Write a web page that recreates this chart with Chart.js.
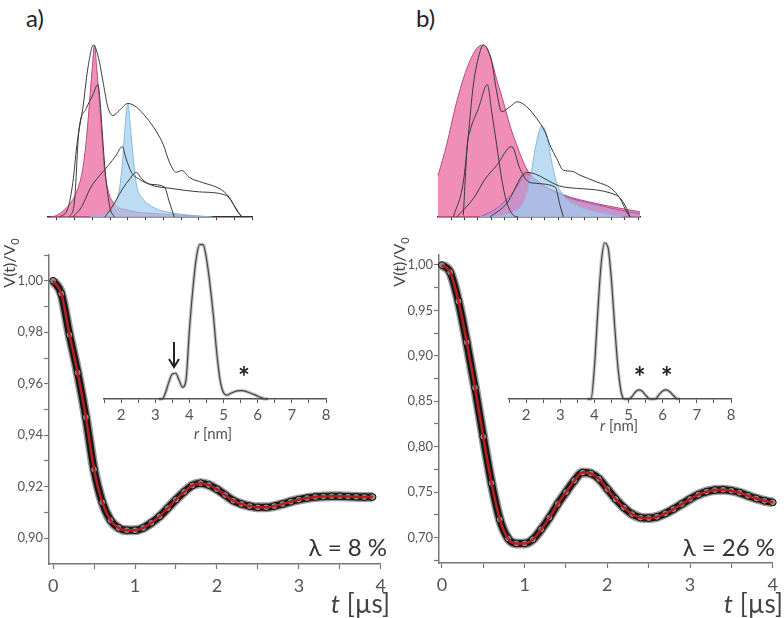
<!DOCTYPE html>
<html>
<head>
<meta charset="utf-8">
<script src="https://cdn.jsdelivr.net/npm/chart.js@4.4.1/dist/chart.umd.min.js"></script>
<style>
  body { margin: 0; background: #fff; width: 784px; height: 618px; position: relative; overflow: hidden; font-family: Lato, "Open Sans", sans-serif; }
  canvas { position: absolute; }
  .lbl { position: absolute; font-size: 24px; color: #222; }
</style>
</head>
<body>
<div class="lbl" style="left:26px;top:3px">a)</div>
<div class="lbl" style="left:416px;top:3px">b)</div>
<canvas id="topA" width="230" height="195" style="left:40px;top:35px"></canvas>
<canvas id="topB" width="230" height="195" style="left:430px;top:35px"></canvas>
<canvas id="mainA" width="392" height="383" style="left:0px;top:235px"></canvas>
<canvas id="mainB" width="392" height="383" style="left:392px;top:235px"></canvas>
<canvas id="insetA" width="250" height="220" style="left:90px;top:230px"></canvas>
<canvas id="insetB" width="270" height="220" style="left:480px;top:230px"></canvas>
<script>
const FONT = 'Lato, "Open Sans", sans-serif';

// DEER traces, V(t)/V0 against t [µs]
const tA = [0,0.1,0.2,0.3,0.4,0.5,0.6,0.7,0.8,0.9,1.0,1.1,1.2,1.3,1.4,1.5,1.6,1.7,1.8,1.9,2.0,2.1,2.2,2.3,2.4,2.5,2.6,2.7,2.8,2.9,3.0,3.1,3.2,3.3,3.4,3.5,3.6,3.7,3.8,3.9];
const vA = [1.000,0.995,0.979,0.9643,0.947,0.9267,0.914,0.907,0.904,0.9031,0.9031,0.904,0.906,0.9085,0.9117,0.915,0.918,0.9205,0.9214,0.9207,0.919,0.9168,0.9146,0.9133,0.9125,0.912,0.912,0.9125,0.9133,0.9142,0.915,0.9156,0.916,0.9162,0.9163,0.9163,0.9162,0.9161,0.916,0.916];
const tB = [0,0.1,0.2,0.3,0.4,0.5,0.6,0.7,0.8,0.9,1.0,1.1,1.2,1.3,1.4,1.5,1.6,1.7,1.8,1.9,2.0,2.1,2.2,2.3,2.4,2.5,2.6,2.7,2.8,2.9,3.0,3.1,3.2,3.3,3.4,3.5,3.6,3.7,3.8,3.9,4.0];
const vB = [1.000,0.992,0.960,0.915,0.865,0.811,0.760,0.720,0.699,0.6935,0.6935,0.698,0.709,0.722,0.737,0.750,0.7626,0.7715,0.7705,0.7645,0.7534,0.7424,0.733,0.7258,0.722,0.7214,0.7228,0.7265,0.7313,0.7368,0.7424,0.7472,0.7505,0.7523,0.7527,0.7516,0.7494,0.746,0.743,0.7405,0.7387];

const xMajor = [0,1,2,3,4];
const xMinor = [0.5,1.5,2.5,3.5];
const yMajorA = [0.90,0.92,0.94,0.96,0.98,1.00];
const yMinorA = [0.91,0.93,0.95,0.97,0.99,1.01];
const yMajorB = [0.70,0.75,0.80,0.85,0.90,0.95,1.00];
const yMinorB = [0.675,0.725,0.775,0.825,0.875,0.925,0.975];

// inset distance distributions P(r), r [nm]
const rA = [3.1,3.2,3.3,3.4,3.5,3.6,3.7,3.8,3.9,4.0,4.1,4.2,4.3,4.4,4.5,4.6,4.7,4.8,4.9,5.0,5.1,5.2,5.3,5.4,5.5,5.6,5.7,5.8,5.9,6.0,6.1,6.2,6.3];
const pA = [0,0,0.04,0.11,0.16,0.165,0.12,0.075,0.12,0.44,0.70,0.90,0.99,0.99,0.90,0.74,0.54,0.30,0.12,0.04,0.025,0.035,0.045,0.052,0.054,0.052,0.045,0.037,0.028,0.018,0.009,0.002,0];
const rB = [3.8,3.9,4.0,4.1,4.2,4.3,4.4,4.5,4.6,4.7,4.8,4.9,5.0,5.1,5.2,5.3,5.4,5.5,5.6,5.7,5.8,5.9,6.0,6.1,6.2,6.3,6.4,6.5];
const pB = [0,0,0.2,0.56,0.87,1.0,0.97,0.76,0.45,0.18,0.03,0,0,0.015,0.045,0.058,0.05,0.025,0.003,0,0.003,0.03,0.052,0.058,0.048,0.025,0.005,0];
const rMajor = [2,3,4,5,6,7,8];
const rMinor = [1.5,2.5,3.5,4.5,5.5,6.5,7.5];

// top panels: simulated component distributions [position, height]
const envA = [[1.15,0],[1.62,0.05],[1.9,0.2],[2.13,0.42],[2.24,0.5],[2.46,0.63],[2.74,0.86],[3.06,1.0],[3.36,0.92],[3.63,0.77],[3.87,0.64],[4.15,0.59],[4.53,0.62],[5.0,0.66],[5.47,0.64],[6.03,0.58],[6.59,0.5],[7.0,0.42],[7.34,0.32],[7.72,0.26],[8.05,0.27],[8.47,0.23],[9.22,0.2],[9.97,0.175],[10.44,0.146],[10.81,0.1],[11.19,0.03],[11.47,0]];
const pinkA = [[0.6,0],[1.0,0.01],[1.81,0.087],[2.2,0.17],[2.46,0.28],[2.69,0.48],[2.84,0.67],[2.99,0.86],[3.12,1.0],[3.25,0.86],[3.4,0.67],[3.53,0.48],[3.68,0.28],[3.85,0.17],[4.15,0.087],[5.0,0.04],[6.5,0.02],[8.5,0.008],[9.5,0]];
const blueA = [[2.84,0],[3.78,0.02],[4.25,0.068],[4.53,0.165],[4.71,0.33],[4.81,0.48],[5.0,0.66],[5.18,0.48],[5.32,0.33],[5.5,0.18],[5.84,0.107],[6.4,0.058],[7.53,0.023],[9.03,0.006],[9.78,0]];
const compA1 = [[1.71,0],[1.99,0.087],[2.24,0.5],[2.65,0.63],[3.03,0.71],[3.31,0.77],[3.44,0.67],[3.55,0.51],[3.68,0.32],[3.83,0.165],[4.0,0.05],[4.25,0]];
const compA2 = [[1.9,0],[2.4,0.06],[2.9,0.17],[3.4,0.24],[3.9,0.3],[4.35,0.36],[4.68,0.41],[4.9,0.34],[5.2,0.26],[5.65,0.22],[6.3,0.19],[7.06,0.175],[7.34,0.087],[7.62,0]];
const compA3 = [[3.7,0],[4.06,0.05],[4.4,0.11],[4.71,0.165],[5.1,0.22],[5.47,0.26],[5.8,0.22],[6.22,0.19],[7.53,0.165],[9.03,0.146],[10.53,0.126],[11.1,0.05],[11.4,0]];

const envB = [[1.15,0],[1.9,0.204],[2.275,0.476],[2.65,0.767],[3.15,0.961],[3.4,1.0],[4.025,0.903],[4.4,0.728],[4.775,0.612],[5.4,0.641],[5.95,0.67],[6.65,0.641],[7.4,0.573],[8.025,0.495],[8.4,0.417],[8.9,0.34],[9.4,0.272],[10.025,0.266],[10.65,0.243],[11.9,0.204],[13.025,0.165],[13.65,0.107],[14.15,0.029],[14.4,0]];
const pinkB = [[0,0.24],[0.65,0.42],[1.4,0.67],[2.15,0.86],[2.9,0.98],[3.4,1.0],[3.9,0.94],[4.4,0.8],[4.9,0.67],[5.4,0.53],[5.9,0.42],[6.65,0.28],[7.65,0.2],[9.4,0.13],[11.9,0.078],[15.15,0.03]];
const violetB = [[3.15,0],[4.4,0.05],[5.65,0.146],[6.65,0.25],[7.65,0.19],[9.4,0.122],[11.9,0.072],[14.4,0.028],[15.15,0.02]];
const blueB = [[3.15,0],[5.65,0.03],[6.4,0.087],[6.9,0.22],[7.35,0.42],[7.78,0.53],[8.15,0.48],[8.53,0.32],[8.9,0.2],[9.4,0.126],[10.15,0.078],[11.9,0.03],[13.9,0]];
const compB1 = [[1.9,0.01],[2.2,0.42],[2.4,0.5],[3.03,0.63],[3.7,0.77],[4.03,0.61],[4.4,0.42],[4.78,0.22],[5.15,0.087],[5.65,0.01],[6.0,0]];
const compB2 = [[1.4,0],[2.65,0.107],[3.53,0.22],[4.4,0.3],[5.53,0.41],[6.15,0.28],[6.9,0.2],[8.78,0.175],[9.15,0.068],[9.4,0]];
const compB3 = [[3.9,0],[5.15,0.078],[6.65,0.26],[9.4,0.175],[13.4,0.126],[14.15,0.05],[14.4,0]];

function xy(xs, ys) { return xs.map((x, i) => ({x: x, y: ys[i]})); }
function pairs(a) { return a.map(p => ({x: p[0], y: p[1]})); }
function tickList(a, b) { return a.concat(b).sort((m, n) => m - n).map(v => ({value: v})); }
function comma(v) { return v.toFixed(2).replace('.', ','); }

const notes = {
  id: 'notes',
  afterDatasetsDraw(chart, args, opts) {
    const ctx = chart.ctx;
    const font = s => (s.italic ? 'italic ' : '') + (s.bold ? 'bold ' : '') + s.size + 'px ' + FONT;
    (opts.items || []).forEach(it => {
      ctx.save();
      const x = it.rx !== undefined ? chart.scales.x.getPixelForValue(it.rx) : it.x;
      ctx.translate(x, it.y);
      if (it.rot) ctx.rotate(it.rot);
      ctx.textBaseline = 'middle';
      ctx.fillStyle = it.color || '#333';
      let w = 0;
      it.segs.forEach(s => { ctx.font = font(s); w += ctx.measureText(s.t).width; });
      let cx = it.align === 'right' ? -w : it.align === 'center' ? -w / 2 : 0;
      it.segs.forEach(s => {
        ctx.font = font(s);
        ctx.fillText(s.t, cx, s.dy || 0);
        cx += ctx.measureText(s.t).width;
      });
      ctx.restore();
    });
    (opts.arrows || []).forEach(a => {
      const x = chart.scales.x.getPixelForValue(a.rx);
      ctx.save();
      ctx.strokeStyle = '#222';
      ctx.lineWidth = 2;
      ctx.beginPath();
      ctx.moveTo(x, a.y1); ctx.lineTo(x, a.y2);
      ctx.moveTo(x - 5, a.y2 - 8); ctx.lineTo(x, a.y2); ctx.lineTo(x + 5, a.y2 - 8);
      ctx.stroke();
      ctx.restore();
    });
  }
};

function mainChart(id, t, v, ymin, ymax, yMajor, yMinor, xmin, pad, yw, xh, items) {
  new Chart(document.getElementById(id), {
    type: 'line',
    data: {
      datasets: [
        {data: xy(t, v), borderColor: '#b3201f', borderWidth: 2.5, pointRadius: 0, cubicInterpolationMode: 'monotone', clip: false},
        {data: xy(t, v), borderColor: '#161616', borderWidth: 7, pointRadius: 3.4, pointBackgroundColor: '#8c8c8c',
         pointBorderColor: '#111', pointBorderWidth: 1, cubicInterpolationMode: 'monotone', clip: false},
        {data: xy(t, v), borderColor: '#9a9a9a', borderWidth: 10, pointRadius: 0, cubicInterpolationMode: 'monotone', clip: false}
      ]
    },
    options: {
      responsive: false, animation: false,
      layout: {padding: pad, autoPadding: false},
      plugins: {legend: {display: false}, tooltip: {enabled: false}, notes: {items: items}},
      scales: {
        x: {type: 'linear', min: xmin, max: 4,
            afterBuildTicks: s => { s.ticks = tickList(xMajor, xMinor); },
            afterFit: s => { s.height = xh; },
            ticks: {autoSkip: false, maxRotation: 0, padding: 6, color: '#555', font: {size: 18, family: FONT},
                    callback: val => xMajor.includes(val) ? String(val) : ''},
            grid: {drawOnChartArea: false, tickLength: 5, color: '#777', tickWidth: 1.2},
            border: {color: '#777', width: 1.5}},
        y: {type: 'linear', min: ymin, max: ymax,
            afterBuildTicks: s => { s.ticks = tickList(yMajor, yMinor); },
            afterFit: s => { s.width = yw; },
            ticks: {autoSkip: false, padding: 1, color: '#555', font: {size: 13, family: FONT},
                    callback: val => yMajor.includes(val) ? comma(val) : ''},
            grid: {drawOnChartArea: false, tickLength: 5, color: '#777', tickWidth: 1.2},
            border: {color: '#777', width: 1.5}}
      }
    },
    plugins: [notes]
  });
}

function insetChart(id, r, p, pad, labelItems, arrows) {
  new Chart(document.getElementById(id), {
    type: 'line',
    data: {
      datasets: [
        {data: xy(r, p), borderColor: '#444', borderWidth: 1.2, pointRadius: 0, cubicInterpolationMode: 'monotone', clip: false},
        {data: xy(r, p), borderColor: 'rgba(0,0,0,0.22)', borderWidth: 3.5, pointRadius: 0, cubicInterpolationMode: 'monotone', clip: false}
      ]
    },
    options: {
      responsive: false, animation: false,
      layout: {padding: pad, autoPadding: false},
      plugins: {legend: {display: false}, tooltip: {enabled: false}, notes: {items: labelItems, arrows: arrows}},
      scales: {
        x: {type: 'linear', min: 1.5, max: 8,
            afterBuildTicks: s => { s.ticks = tickList(rMajor, rMinor); },
            afterFit: s => { s.height = 51; },
            ticks: {autoSkip: false, maxRotation: 0, padding: 3, color: '#555', font: {size: 15, family: FONT},
                    callback: val => rMajor.includes(val) ? String(val) : ''},
            grid: {drawOnChartArea: false, tickLength: 4, color: '#555', tickWidth: 1},
            border: {color: '#555', width: 1.5}},
        y: {display: false, min: 0, max: 1}
      }
    },
    plugins: [notes]
  });
}

function topChart(id, xmin, xmax, nTicks, pad, filled, lines) {
  const ticks = [];
  for (let k = 1; k <= nTicks; k++) ticks.push({value: k});
  const ds = [];
  lines.forEach(l => ds.push({data: pairs(l), borderColor: '#3a3a3a', borderWidth: 1, pointRadius: 0,
                              cubicInterpolationMode: 'monotone', fill: false, clip: false}));
  filled.forEach(f => ds.push({data: pairs(f.d), borderColor: f.line, borderWidth: 1, backgroundColor: f.bg, pointRadius: 0,
                               cubicInterpolationMode: 'monotone', fill: 'origin', clip: false}));
  new Chart(document.getElementById(id), {
    type: 'line',
    data: {datasets: ds},
    options: {
      responsive: false, animation: false,
      layout: {padding: pad, autoPadding: false},
      plugins: {legend: {display: false}, tooltip: {enabled: false}},
      scales: {
        x: {type: 'linear', min: xmin, max: xmax,
            afterBuildTicks: s => { s.ticks = ticks; },
            afterFit: s => { s.height = 13; },
            ticks: {autoSkip: false, callback: () => ''},
            grid: {drawOnChartArea: false, tickLength: 3, color: '#333'},
            border: {color: '#333', width: 1.5}},
        y: {display: false, min: 0, max: 1}
      }
    }
  });
}

topChart('topA', 0.5, 12, 12, {left: 8, right: 18, top: 10, bottom: 0},
  [{d: pinkA, bg: 'rgba(233,100,155,0.72)', line: '#c2457e'},
   {d: blueA, bg: 'rgba(160,205,240,0.7)', line: '#86b8de'}].reverse(),
  [envA, compA1, compA2, compA3]);

topChart('topB', 0, 15.15, 15, {left: 8, right: 20, top: 10, bottom: 0},
  [{d: pinkB, bg: 'rgba(233,100,155,0.72)', line: '#c2457e'},
   {d: violetB, bg: 'rgba(160,150,220,0.45)', line: '#9a5aa8'},
   {d: blueB, bg: 'rgba(160,205,240,0.7)', line: '#86b8de'}].reverse(),
  [envB, compB1, compB2, compB3]);

mainChart('mainA', tA, vA, 0.89, 1.01, yMajorA, yMinorA, -0.05, {top: 20, right: 5, left: 0, bottom: 0}, 49, 54, [
  {x: 10, y: 28, rot: -Math.PI / 2, align: 'center', color: '#444', segs: [{t: 'V(t)/V', size: 16}, {t: '0', size: 11, dy: 5}]},
  {x: 387, y: 313, align: 'right', color: '#333', segs: [{t: 'λ = 8 %', size: 24}]},
  {x: 390, y: 370, align: 'right', color: '#444', segs: [{t: 't', size: 26, italic: true}, {t: ' [µs]', size: 26}]}
]);

mainChart('mainB', tB, vB, 0.672, 1.011, yMajorB, yMinorB, -0.035, {top: 20, right: 6, left: 0, bottom: 0}, 47, 55, [
  {x: 8, y: 27, rot: -Math.PI / 2, align: 'center', color: '#444', segs: [{t: 'V(t)/V', size: 16}, {t: '0', size: 11, dy: 5}]},
  {x: 383, y: 313, align: 'right', color: '#333', segs: [{t: 'λ = 26 %', size: 24}]},
  {x: 391, y: 370, align: 'right', color: '#444', segs: [{t: 't', size: 26, italic: true}, {t: ' [µs]', size: 26}]}
]);

insetChart('insetA', rA, pA, {left: 14, right: 14, top: 13, bottom: 0}, [
  {x: 123, y: 204, align: 'center', color: '#555', segs: [{t: 'r', size: 15, italic: true}, {t: ' [nm]', size: 15}]},
  {rx: 5.6, y: 148, align: 'center', color: '#222', segs: [{t: '*', size: 28, bold: true}]}
], [{rx: 3.55, y1: 112, y2: 137}]);

insetChart('insetB', rB, pB, {left: 29, right: 19, top: 13, bottom: 0}, [
  {x: 139, y: 196, align: 'center', color: '#555', segs: [{t: 'r', size: 15, italic: true}, {t: ' [nm]', size: 15}]},
  {rx: 5.33, y: 148, align: 'center', color: '#222', segs: [{t: '*', size: 28, bold: true}]},
  {rx: 6.12, y: 148, align: 'center', color: '#222', segs: [{t: '*', size: 28, bold: true}]}
], []);
</script>
</body>
</html>
